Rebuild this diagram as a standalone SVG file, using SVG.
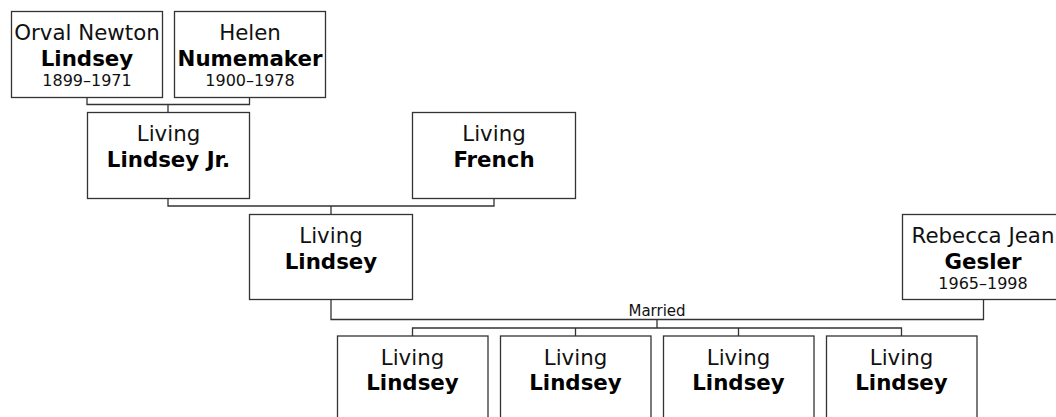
<svg xmlns="http://www.w3.org/2000/svg" width="1056" height="417" viewBox="0 0 1056 417">
<style>
.box{fill:#fff;stroke:#333;stroke-width:1.3}
.ln{fill:none;stroke:#333;stroke-width:1.3}
text{font-family:"DejaVu Sans",Verdana,sans-serif;text-anchor:middle;fill:#111}
.g{font-size:21.33px}
.s{font-size:21.33px;font-weight:bold;fill:#000}
.d{font-size:16px}
.m{font-size:15px}
</style>
<rect width="1056" height="417" fill="#fff"/>
<g id="connectors">
<path class="ln" d="M87,97.5V104.5H249.5V97.5M168,104.5V112.5"/>
<path class="ln" d="M168,198.5V206H494V198.5M331,206V214.5"/>
<path class="ln" d="M331,299.5V319.5H983.5V299.5M657,319.5V328"/>
<path class="ln" d="M412.5,336V328H901.5V336M575.5,328V336M738.5,328V336"/>
<text class="m" x="657" y="315.5">Married</text>
</g>
<g id="orval">
<rect class="box" x="11.5" y="11.5" width="151" height="86"/>
<text class="g" x="87" y="40">Orval Newton</text>
<text class="s" x="87" y="65.5">Lindsey</text>
<text class="d" x="87" y="86">1899–1971</text>
</g>
<g id="helen">
<rect class="box" x="174.5" y="11.5" width="151" height="86"/>
<text class="g" x="250" y="40">Helen</text>
<text class="s" x="250" y="65.5">Numemaker</text>
<text class="d" x="250" y="86">1900–1978</text>
</g>
<g id="lindsey-jr">
<rect class="box" x="87.5" y="112.5" width="162" height="86"/>
<text class="g" x="168.5" y="141">Living</text>
<text class="s" x="168.5" y="166.5">Lindsey Jr.</text>
</g>
<g id="french">
<rect class="box" x="412.5" y="112.5" width="163" height="86"/>
<text class="g" x="494" y="141">Living</text>
<text class="s" x="494" y="166.5">French</text>
</g>
<g id="lindsey">
<rect class="box" x="249.5" y="214.5" width="163" height="85"/>
<text class="g" x="331" y="243">Living</text>
<text class="s" x="331" y="268.5">Lindsey</text>
</g>
<g id="rebecca">
<rect class="box" x="902.5" y="214.5" width="163" height="85"/>
<text class="g" x="983" y="243">Rebecca Jean</text>
<text class="s" x="983" y="268.5">Gesler</text>
<text class="d" x="983" y="289">1965–1998</text>
</g>
<g id="child1">
<rect class="box" x="337.5" y="336" width="150.5" height="86"/>
<text class="g" x="412.5" y="364.5">Living</text>
<text class="s" x="412.5" y="390">Lindsey</text>
</g>
<g id="child2">
<rect class="box" x="500.5" y="336" width="150.5" height="86"/>
<text class="g" x="575.5" y="364.5">Living</text>
<text class="s" x="575.5" y="390">Lindsey</text>
</g>
<g id="child3">
<rect class="box" x="663.5" y="336" width="150.5" height="86"/>
<text class="g" x="738.5" y="364.5">Living</text>
<text class="s" x="738.5" y="390">Lindsey</text>
</g>
<g id="child4">
<rect class="box" x="826.5" y="336" width="150.5" height="86"/>
<text class="g" x="901.5" y="364.5">Living</text>
<text class="s" x="901.5" y="390">Lindsey</text>
</g>
</svg>
